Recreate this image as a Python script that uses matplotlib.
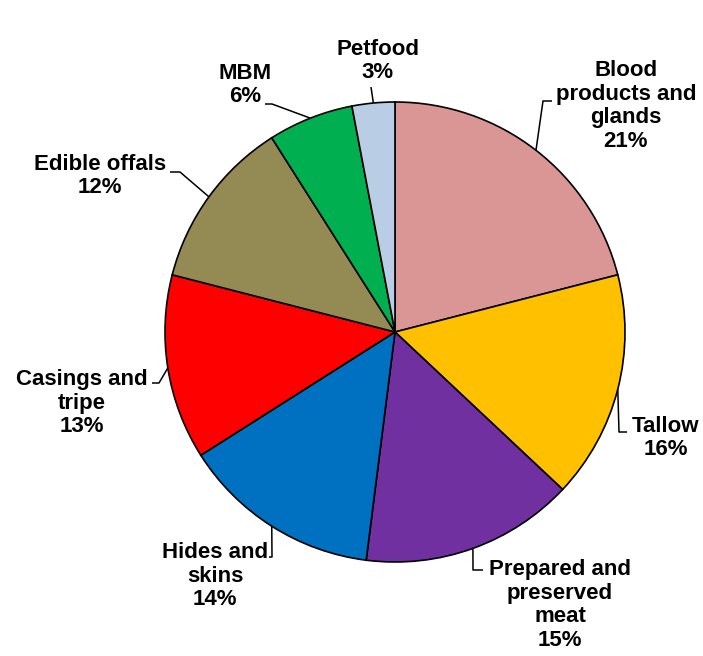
import numpy as np
import matplotlib
matplotlib.use("Agg")
import matplotlib.pyplot as plt

# data
labels = ["Blood\nproducts and\nglands", "Tallow", "Prepared and\npreserved\nmeat",
          "Hides and\nskins", "Casings and\ntripe", "Edible offals", "MBM", "Petfood"]
shares = [21, 16, 15, 14, 13, 12, 6, 3]
colors = ["#D99694", "#FFC000", "#7030A0", "#0070C0", "#FF0000", "#948A54", "#00B050", "#B9CDE5"]

# layout (pixel coords, y measured from top)
W, H = 703, 656
center_px = (395, 332)
radius = 230
text_pos = [(626, 106), (666, 438), (560, 605), (215, 576),
            (82, 403), (100, 176), (245, 85), (378, 61)]
elbows = [[(543, 101), (552, 101)],
          [(619, 432), (627, 432)],
          [(473, 570), (483, 570)],
          [(272, 557), (269, 557)],
          [(159, 383), (152, 383)],
          [(180, 172), (170, 172)],
          [(272, 104), (265, 104)],
          [(371, 87)]]

fig = plt.figure(figsize=(W / 100, H / 100), dpi=100)
ax = fig.add_axes([0, 0, 1, 1])

cx, cy = center_px[0], H - center_px[1]
wedges, _ = ax.pie(shares, colors=colors, startangle=90, counterclock=False,
                   center=(cx, cy), radius=radius, frame=True,
                   wedgeprops=dict(edgecolor="black", linewidth=1.2))
ax.set_xlim(0, W)
ax.set_ylim(0, H)
ax.set_aspect("equal")
ax.axis("off")

for w, lab, val, (tx, ty), pts in zip(wedges, labels, shares, text_pos, elbows):
    mid = np.deg2rad((w.theta1 + w.theta2) / 2)
    ex, ey = cx + radius * np.cos(mid), cy + radius * np.sin(mid)
    xs = [ex] + [p[0] for p in pts]
    ys = [ey] + [H - p[1] for p in pts]
    ax.plot(xs, ys, color="black", lw=1.1, solid_capstyle="butt")
    ax.text(tx, H - ty, f"{lab}\n{val}%", ha="center", va="center", multialignment="center",
            fontsize=16, fontweight="bold", family="Liberation Sans", linespacing=1.17)

fig.savefig("out.png", dpi=100)
